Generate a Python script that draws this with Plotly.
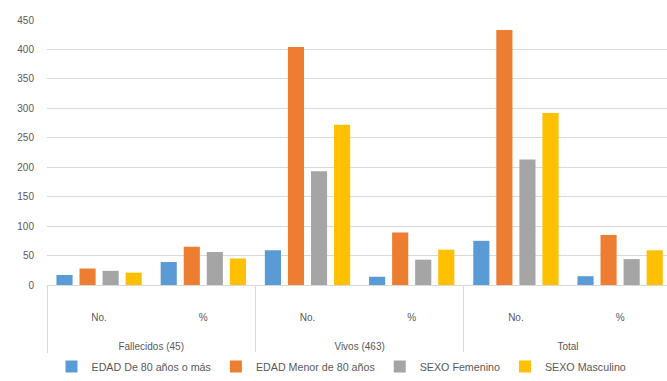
import plotly.graph_objects as go

# Category levels (outer group, inner measure)
groups = ["Fallecidos (45)", "Fallecidos (45)", "Vivos (463)", "Vivos (463)", "Total", "Total"]
measures = ["No.", "%", "No.", "%", "No.", "%"]

# Series values per category
edad_80_mas = [17, 39, 59, 14, 75, 15]
edad_menor_80 = [28, 65, 404, 89, 433, 85]
sexo_femenino = [24, 56, 193, 43, 213, 44]
sexo_masculino = [21, 45, 272, 60, 292, 59]

series_names = [
    "EDAD De 80 años o más",
    "EDAD Menor de 80 años",
    "SEXO Femenino",
    "SEXO Masculino",
]
series_values = [edad_80_mas, edad_menor_80, sexo_femenino, sexo_masculino]
series_colors = ["#5B9BD5", "#ED7D31", "#A5A5A5", "#FFC000"]

y_ticks = [0, 50, 100, 150, 200, 250, 300, 350, 400, 450]

# Outer labels are pushed a few lines lower to leave room between the two levels
outer_labels = ["<br><br><br>" + g for g in groups]

fig = go.Figure()
for name, vals, color in zip(series_names, series_values, series_colors):
    fig.add_trace(go.Bar(
        x=[outer_labels, measures],
        y=vals,
        name=name,
        marker=dict(color=color, line=dict(width=0)),
    ))

fig.update_layout(
    width=667,
    height=381,
    margin=dict(l=47, r=0, t=20, b=84),
    paper_bgcolor="white",
    plot_bgcolor="white",
    barmode="group",
    bargap=0.115,
    bargroupgap=0.3,
    font=dict(family="Liberation Sans, Arial, sans-serif", size=10, color="#595959"),
    showlegend=True,
    legend=dict(
        orientation="h",
        x=0.475,
        xanchor="center",
        y=-0.255,
        yanchor="top",
        font=dict(size=10.7, color="#595959"),
        itemwidth=30,
        tracegroupgap=0,
    ),
)

fig.update_xaxes(
    type="multicategory",
    range=[-0.5, 5.45],
    showline=True,
    linecolor="#D9D9D9",
    linewidth=1,
    showgrid=False,
    ticklabelstandoff=23,
    showdividers=True,
    dividercolor="#D9D9D9",
    dividerwidth=1,
    tickfont=dict(size=10, color="#595959"),
)

fig.update_yaxes(
    range=[0, 450],
    tickvals=y_ticks,
    showgrid=True,
    gridcolor="#D9D9D9",
    gridwidth=1,
    zeroline=False,
    showline=False,
    ticklabelstandoff=12,
    tickfont=dict(size=10, color="#595959"),
)

fig.write_html("out.html")
